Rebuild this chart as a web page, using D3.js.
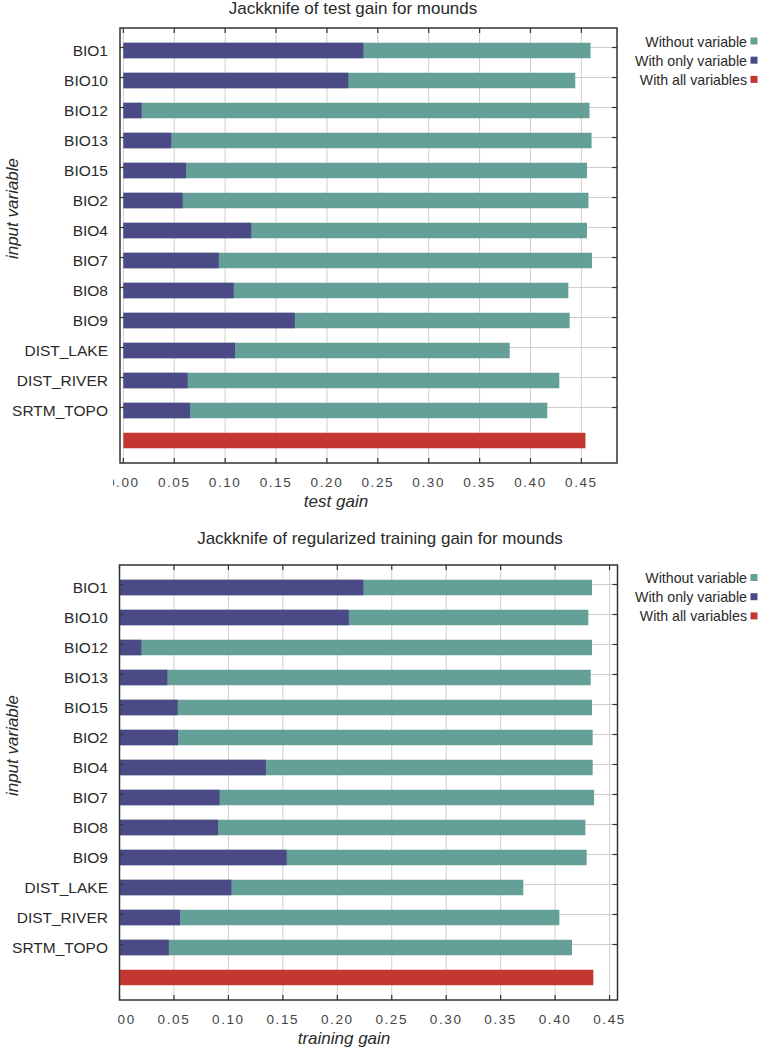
<!DOCTYPE html>
<html>
<head>
<meta charset="utf-8">
<script src="https://cdn.jsdelivr.net/npm/d3@7"></script>
<style>
  body { margin: 0; background: #fff; }
  svg { display: block; font-family: "Liberation Sans", Arial, sans-serif; }
</style>
</head>
<body>
<svg width="762" height="1053"></svg>
<script>
var variables = ["BIO1", "BIO10", "BIO12", "BIO13", "BIO15", "BIO2", "BIO4", "BIO7",
                 "BIO8", "BIO9", "DIST_LAKE", "DIST_RIVER", "SRTM_TOPO"];

// test gain
var testWithout = [0.459, 0.444, 0.458, 0.460, 0.4555, 0.457, 0.4555, 0.4604, 0.4372, 0.4385, 0.3796, 0.4283, 0.4165];
var testOnly    = [0.2358, 0.221, 0.018, 0.047, 0.0616, 0.0583, 0.1256, 0.0937, 0.1084, 0.1684, 0.1097, 0.0632, 0.0655];
var testAll     = 0.454;

// regularized training gain
var trainWithout = [0.4339, 0.4305, 0.4339, 0.4327, 0.4339, 0.4345, 0.4345, 0.4358, 0.4278, 0.429, 0.3708, 0.4039, 0.4155];
var trainOnly    = [0.2239, 0.2105, 0.020, 0.0439, 0.0534, 0.0537, 0.1344, 0.0918, 0.0905, 0.1535, 0.1027, 0.0556, 0.0452];
var trainAll     = 0.4351;

var xTicks = [0, 0.05, 0.10, 0.15, 0.20, 0.25, 0.30, 0.35, 0.40, 0.45];
var legendLabels = ["Without variable", "With only variable", "With all variables"];

var teal = "#65a098", navy = "#4b4a87", red = "#c43630";
var legendColors = [teal, navy, red];

var svg = d3.select("svg");

function drawChart(o) {
  var g = svg.append("g");
  var x = d3.scaleLinear().domain(o.xDomain).range([o.left, o.right]);
  var rows = variables.concat(["__all"]);
  var y = d3.scalePoint().domain(rows).range([o.top, o.bottom]).padding(0.75);
  var bh = 15.5;

  // grid
  g.selectAll(".vgrid").data(xTicks).enter().append("line")
    .attr("x1", d => x(d)).attr("x2", d => x(d))
    .attr("y1", o.top).attr("y2", o.bottom)
    .attr("stroke", "#d2cdcc").attr("stroke-width", 1);
  g.selectAll(".hgrid").data(variables).enter().append("line")
    .attr("x1", o.left).attr("x2", o.right)
    .attr("y1", d => y(d) - 3).attr("y2", d => y(d) - 3)
    .attr("stroke", "#d2cdcc").attr("stroke-width", 1);

  // bars
  var data = variables.map((v, i) => ({v: v, without: o.without[i], only: o.only[i]}));
  g.selectAll(".without").data(data).enter().append("rect")
    .attr("x", x(0)).attr("y", d => y(d.v) - bh / 2)
    .attr("width", d => x(d.without) - x(0)).attr("height", bh)
    .attr("fill", teal);
  g.selectAll(".only").data(data).enter().append("rect")
    .attr("x", x(0)).attr("y", d => y(d.v) - bh / 2)
    .attr("width", d => x(d.only) - x(0)).attr("height", bh)
    .attr("fill", navy);
  g.append("rect")
    .attr("x", x(0)).attr("y", y("__all") - bh / 2)
    .attr("width", x(o.all) - x(0)).attr("height", bh)
    .attr("fill", red);

  // frame ticks (inward)
  g.selectAll(".tt").data(xTicks).enter().append("line")
    .attr("x1", d => x(d)).attr("x2", d => x(d))
    .attr("y1", o.top).attr("y2", o.top + 5)
    .attr("stroke", "#333").attr("stroke-width", 1.2);
  g.selectAll(".tb").data(xTicks).enter().append("line")
    .attr("x1", d => x(d)).attr("x2", d => x(d))
    .attr("y1", o.bottom).attr("y2", o.bottom - 5)
    .attr("stroke", "#333").attr("stroke-width", 1.2);
  g.selectAll(".tr").data(variables).enter().append("line")
    .attr("x1", o.right).attr("x2", o.right - 5)
    .attr("y1", d => y(d) - 3).attr("y2", d => y(d) - 3)
    .attr("stroke", "#333").attr("stroke-width", 1.2);
  g.selectAll(".tl").data(variables).enter().append("line")
    .attr("x1", o.left).attr("x2", o.left + 4)
    .attr("y1", d => y(d) - 3).attr("y2", d => y(d) - 3)
    .attr("stroke", "#333").attr("stroke-width", 1.2);

  // frame
  g.append("rect")
    .attr("x", o.left).attr("y", o.top)
    .attr("width", o.right - o.left).attr("height", o.bottom - o.top)
    .attr("fill", "none").attr("stroke", "#333").attr("stroke-width", 1.5);

  // y labels
  g.selectAll(".ylab").data(variables).enter().append("text")
    .attr("x", 108).attr("y", d => y(d) + 5.5)
    .attr("text-anchor", "end")
    .attr("font-size", 15.5).attr("fill", "#2a2a2a")
    .text(d => d);

  // x tick labels, left edge cut like the source image
  var clipId = "clip" + o.top;
  g.append("clipPath").attr("id", clipId)
    .append("rect").attr("x", o.clipX).attr("y", o.bottom).attr("width", 762).attr("height", 40);
  g.append("g").attr("clip-path", "url(#" + clipId + ")")
    .selectAll("text").data(xTicks).enter().append("text")
    .attr("x", d => x(d)).attr("y", o.bottom + 24)
    .attr("text-anchor", "middle")
    .attr("font-size", 13.5).attr("letter-spacing", "1.6px").attr("fill", "#444")
    .text(d3.format(".2f"));

  // axis titles
  g.append("text")
    .attr("x", o.xTitleX).attr("y", o.bottom + 44)
    .attr("text-anchor", "middle").attr("font-style", "italic")
    .attr("font-size", 17).attr("fill", "#2a2a2a")
    .text(o.xTitle);
  g.append("text")
    .attr("transform", "translate(18," + ((o.top + o.bottom) / 2 - 37) + ") rotate(-90)")
    .attr("text-anchor", "middle").attr("font-style", "italic")
    .attr("font-size", 17).attr("fill", "#2a2a2a")
    .text("input variable");

  // chart title
  g.append("text")
    .attr("x", o.titleX).attr("y", o.titleY)
    .attr("text-anchor", "middle")
    .attr("font-size", 17).attr("fill", "#2a2a2a")
    .text(o.title);

  // legend
  var leg = g.selectAll(".leg").data(legendLabels).enter().append("g")
    .attr("transform", (d, i) => "translate(0," + (o.legendY + i * 19.2) + ")");
  leg.append("text")
    .attr("x", 747).attr("y", 0)
    .attr("text-anchor", "end")
    .attr("font-size", 14.2).attr("fill", "#2a2a2a")
    .text(d => d);
  leg.append("rect")
    .attr("x", 750.5).attr("y", -9).attr("width", 7).attr("height", 7)
    .attr("fill", (d, i) => legendColors[i]);
}

drawChart({
  top: 28, bottom: 463, left: 120, right: 617,
  xDomain: [-0.0033, 0.485],
  without: testWithout, only: testOnly, all: testAll,
  clipX: 113,
  title: "Jackknife of test gain for mounds", titleX: 353, titleY: 14,
  xTitle: "test gain", xTitleX: 336,
  legendY: 46.5
});

drawChart({
  top: 565, bottom: 1000, left: 119.5, right: 617.5,
  xDomain: [0, 0.4573],
  without: trainWithout, only: trainOnly, all: trainAll,
  clipX: 118,
  title: "Jackknife of regularized training gain for mounds", titleX: 380, titleY: 544,
  xTitle: "training gain", xTitleX: 344,
  legendY: 583
});
</script>
</body>
</html>
